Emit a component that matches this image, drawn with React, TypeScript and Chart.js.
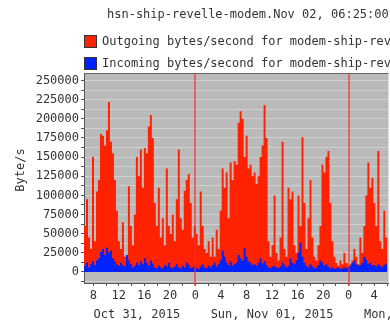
import React, { useEffect, useRef } from "react";
import { Chart, registerables } from "chart.js";

Chart.register(...registerables);

const TITLE = "hsn-ship-revelle-modem.Nov 02, 06:25:00";
const LEGEND_LABELS = [
  "Outgoing bytes/second for modem-ship-revelle",
  "Incoming bytes/second for modem-ship-revelle",
];
const Y_TITLE = "Byte/s";
const DAY_LABELS = ["Oct 31, 2015", "Sun, Nov 01, 2015", "Mon, Nov 02, 2015"];
const DAY_NOON_HOURS = [12, 36, 60];
const MIDNIGHT_HOURS = [24, 48];

// labelled y ticks and the minor grid lines between them
const Y_LABEL_TICKS = [
  0, 25000, 50000, 75000, 100000, 125000, 150000, 175000, 200000, 225000, 250000,
];
const Y_MINOR_TICKS = [
  -12500, 12500, 37500, 62500, 87500, 112500, 137500, 162500, 187500, 212500, 237500,
];

// time axis: hours since Oct 31 2015 00:00, one sample every 18.75 minutes
const START_HOUR = 6.55;
const STEP_HOURS = 0.3125;
const END_HOUR = 54.23;

const outgoing = [
  60000, 95000, 45000, 30000, 150000, 40000, 105000, 120000, 180000, 178000,
  165000, 185000, 222000, 170000, 155000, 120000, 80000, 40000, 30000, 65000,
  20000, 15000, 112000, 60000, 35000, 75000, 150000, 125000, 160000, 110000,
  162000, 155000, 190000, 205000, 175000, 90000, 60000, 110000, 45000, 70000,
  35000, 135000, 60000, 50000, 75000, 40000, 95000, 160000, 70000, 55000,
  106000, 120000, 128000, 90000, 45000, 60000, 50000, 35000, 105000, 60000,
  30000, 25000, 40000, 20000, 45000, 20000, 55000, 30000, 80000, 135000,
  110000, 130000, 70000, 143000, 120000, 145000, 140000, 195000, 210000, 200000,
  150000, 178000, 135000, 140000, 125000, 130000, 115000, 125000, 150000, 165000,
  218000, 175000, 40000, 20000, 35000, 100000, 25000, 15000, 45000, 170000,
  30000, 20000, 110000, 95000, 105000, 35000, 25000, 100000, 60000, 176000,
  90000, 30000, 70000, 120000, 45000, 20000, 15000, 35000, 60000, 140000,
  130000, 150000, 158000, 90000, 40000, 20000, 12000, 8000, 15000, 10000,
  25000, 12000, 8000, 10000, 15000, 30000, 20000, 10000, 45000, 25000,
  60000, 100000, 143000, 110000, 123000, 90000, 60000, 158000, 40000, 30000,
  80000, 45000, 161000,
];

const incoming = [
  8000, 12000, 6000, 10000, 14000, 9000, 15000, 18000, 26000, 30000,
  22000, 32000, 25000, 28000, 18000, 14000, 10000, 8000, 12000, 9000,
  7000, 22000, 15000, 10000, 6000, 8000, 12000, 9000, 14000, 10000,
  18000, 12000, 8000, 15000, 11000, 6000, 5000, 8000, 6000, 5000,
  9000, 7000, 12000, 6000, 5000, 7000, 10000, 6000, 5000, 8000,
  6000, 12000, 9000, 5000, 6000, 8000, 5000, 4000, 7000, 10000,
  6000, 5000, 8000, 6000, 9000, 12000, 7000, 10000, 15000, 28000,
  20000, 12000, 9000, 14000, 8000, 10000, 12000, 22000, 18000, 15000,
  31000, 20000, 14000, 12000, 9000, 10000, 8000, 12000, 18000, 11000,
  14000, 9000, 6000, 5000, 7000, 8000, 6000, 5000, 7000, 12000,
  9000, 6000, 8000, 18000, 12000, 10000, 15000, 25000, 38000, 20000,
  12000, 8000, 6000, 10000, 7000, 5000, 6000, 9000, 15000, 12000,
  8000, 10000, 7000, 5000, 6000, 4000, 5000, 6000, 4000, 5000,
  6000, 5000, 7000, 8000, 12000, 15000, 10000, 8000, 9000, 12000,
  20000, 16000, 10000, 12000, 8000, 9000, 7000, 10000, 8000, 6000,
  9000, 11000, 8000,
];

const Y_MIN = -14400;
const Y_MAX = 259800;

const FONT = "DejaVu Sans Mono";
const TEXT_COLOR = "#333333";
const RED = "#ff2200";
const BLUE = "#0022ff";

const toPoints = (vals: number[]) =>
  vals.map((v, i) => ({ x: START_HOUR + i * STEP_HOURS, y: v }));

const decorPlugin = {
  id: "decor",
  beforeDraw(chart: any) {
    const { ctx, chartArea: a } = chart;
    ctx.save();
    ctx.fillStyle = "#ffffff";
    ctx.fillRect(0, 0, chart.width, chart.height);
    ctx.fillStyle = "#bababa";
    ctx.fillRect(a.left, a.top, a.right - a.left, a.bottom - a.top);
    ctx.restore();
  },
  afterDatasetsDraw(chart: any) {
    const { ctx, chartArea: a, scales } = chart;
    ctx.save();
    ctx.strokeStyle = "rgba(255,40,40,0.6)";
    ctx.lineWidth = 2;
    MIDNIGHT_HOURS.forEach((h) => {
      const px = Math.round(scales.x.getPixelForValue(h));
      ctx.beginPath();
      ctx.moveTo(px, a.top);
      ctx.lineTo(px, a.bottom + 3);
      ctx.stroke();
    });
    ctx.strokeStyle = "#666666";
    ctx.lineWidth = 1;
    ctx.beginPath();
    ctx.moveTo(a.left, a.top + 0.5);
    ctx.lineTo(a.right, a.top + 0.5);
    ctx.stroke();
    ctx.restore();
  },
  afterDraw(chart: any) {
    const { ctx, chartArea: a, scales } = chart;
    ctx.save();
    ctx.fillStyle = TEXT_COLOR;
    ctx.font = `12px "${FONT}"`;
    ctx.textBaseline = "middle";
    ctx.textAlign = "left";
    ctx.fillText(TITLE, 107, 15);

    const colors = [RED, BLUE];
    const rows = [41, 63];
    LEGEND_LABELS.forEach((t, i) => {
      ctx.fillStyle = colors[i];
      ctx.fillRect(a.left, rows[i] - 6, 13, 13);
      ctx.strokeStyle = "#333333";
      ctx.lineWidth = 1;
      ctx.strokeRect(a.left + 0.5, rows[i] - 5.5, 12, 12);
      ctx.fillStyle = TEXT_COLOR;
      ctx.fillText(t, a.left + 18, rows[i] + 1);
    });

    // day labels
    ctx.textAlign = "right";
    const half = ctx.measureText(DAY_LABELS[1]).width / 2;
    DAY_LABELS.forEach((t, i) => {
      const px = scales.x.getPixelForValue(DAY_NOON_HOURS[i]);
      ctx.fillText(t, px + half, 315);
    });

    // y title
    ctx.translate(21, 170);
    ctx.rotate(-Math.PI / 2);
    ctx.textAlign = "center";
    ctx.fillText(Y_TITLE, 0, 0);
    ctx.restore();
  },
};

export default function App() {
  const ref = useRef<HTMLCanvasElement | null>(null);

  useEffect(() => {
    if (!ref.current) return;
    const chart = new Chart(ref.current, {
      type: "line",
      data: {
        datasets: [
          {
            label: LEGEND_LABELS[0],
            data: toPoints(outgoing),
            backgroundColor: RED,
            borderColor: RED,
            borderWidth: 0,
            fill: "origin",
            stepped: true,
            pointRadius: 0,
            order: 1,
          },
          {
            label: LEGEND_LABELS[1],
            data: toPoints(incoming),
            backgroundColor: BLUE,
            borderColor: BLUE,
            borderWidth: 0,
            fill: "origin",
            stepped: true,
            pointRadius: 0,
            order: 0,
          },
        ],
      },
      options: {
        animation: false,
        responsive: false,
        devicePixelRatio: 1,
        layout: { padding: { top: 73, left: 0, right: 0, bottom: 0 } },
        plugins: {
          legend: { display: false },
          title: { display: false },
          tooltip: { enabled: false },
        },
        scales: {
          x: {
            type: "linear",
            min: START_HOUR,
            max: END_HOUR,
            afterFit: (s: any) => {
              s.height = 41;
            },
            ticks: {
              stepSize: 2,
              autoSkip: false,
              maxRotation: 0,
              includeBounds: false,
              padding: 3,
              color: TEXT_COLOR,
              font: { family: FONT, size: 12 },
              callback: (v: any) => (v % 4 === 0 ? String(v % 24) : ""),
            },
            grid: { drawOnChartArea: false, tickLength: 3, tickColor: "#555555" },
            border: { color: "#555555" },
          },
          y: {
            type: "linear",
            min: Y_MIN,
            max: Y_MAX,
            afterFit: (s: any) => {
              s.width = 84;
            },
            afterBuildTicks: (s: any) => {
              s.ticks = [...Y_MINOR_TICKS, ...Y_LABEL_TICKS]
                .sort((p, q) => p - q)
                .map((v) => ({ value: v }));
            },
            ticks: {
              autoSkip: false,
              padding: 2,
              color: TEXT_COLOR,
              font: { family: FONT, size: 12 },
              callback: (v: any) => (Y_LABEL_TICKS.includes(Number(v)) ? String(v) : ""),
            },
            grid: { color: "#d0d0d0", tickLength: 3, tickColor: "#555555" },
            border: { color: "#555555" },
          },
        },
      },
      plugins: [decorPlugin],
    });
    return () => chart.destroy();
  }, []);

  return (
    <div style={{ position: "fixed", left: 0, top: 0, width: 390, height: 324, background: "#fff" }}>
      <canvas ref={ref} width={390} height={324} style={{ display: "block" }} />
    </div>
  );
}
